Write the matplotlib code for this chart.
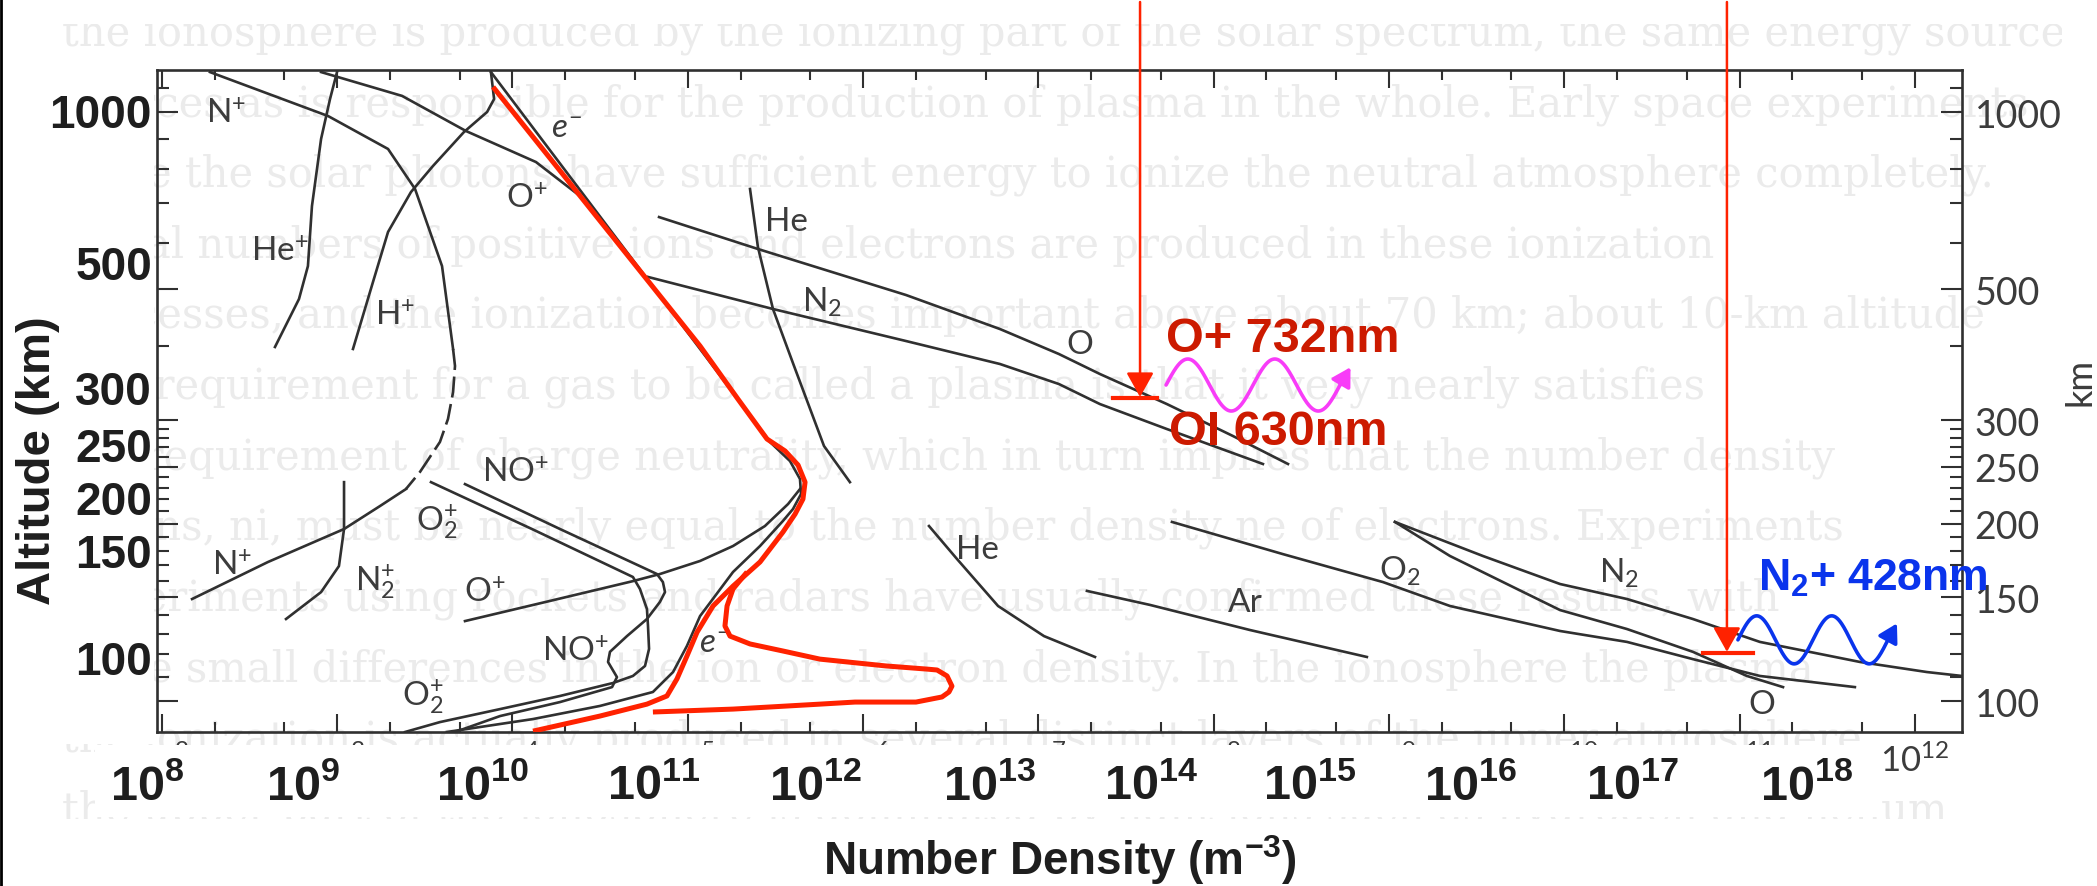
import numpy as np
import matplotlib
matplotlib.use("Agg")
import matplotlib.pyplot as plt
from matplotlib.patches import Rectangle, FancyArrowPatch
from matplotlib.lines import Line2D
from matplotlib.ticker import FixedLocator, NullFormatter, FuncFormatter
from matplotlib.transforms import IdentityTransform, Bbox

plt.rcParams['mathtext.fontset'] = 'custom'
plt.rcParams['mathtext.rm'] = 'Lato'
plt.rcParams['mathtext.it'] = 'Lato:italic'
plt.rcParams['mathtext.bf'] = 'Liberation Sans:bold'
plt.rcParams['mathtext.default'] = 'rm'

# ---- profiles: log10 number density (m^-3), altitude (km)
e_logn = [9.877, 11.070, 11.298, 11.469, 11.583, 11.640, 11.646, 11.600, 11.543, 11.412,
          11.258, 11.070, 10.995, 10.916, 10.801, 10.499, 10.117, 9.626]
e_alt = [1169, 396, 321.8, 275.3, 255.5, 238.2, 224.6, 211.8, 202.2, 183.3,
         165.6, 139.4, 124.0, 112.0, 103.6, 98.1, 93.2, 88.6]

h_plus_logn = [9.877, 9.895, 9.855, 9.723, 9.546, 9.421, 9.290, 9.204, 9.090]
h_plus_alt = [1169, 1052, 1000, 924.7, 809.6, 731.5, 625.7, 514.4, 396]

he_plus_logn = [8.999, 8.959, 8.908, 8.856, 8.833, 8.782, 8.645]
he_plus_alt = [1169, 1052, 900, 692.4, 547.6, 481.4, 399.1]

o_plus_top_logn = [8.908, 9.370, 9.735, 10.134, 10.385, 10.539, 10.767, 10.853]
o_plus_top_alt = [1169, 1065, 928.3, 822.4, 720.1, 633.1, 520.5, 481.4]

o_plus_low_logn = [9.729, 10.214, 10.687, 10.841, 11.070, 11.258, 11.440, 11.572, 11.640]
o_plus_low_alt = [136.7, 147.9, 159.8, 164.3, 172.9, 183.3, 198.2, 216.0, 229.0]

n_plus_logn = [8.274, 8.948, 9.290, 9.444, 9.598, 9.661]
n_plus_alt = [1169, 984.4, 865.5, 740.2, 547.6, 396]
n_plus_gap_logn = [9.661, 9.672, 9.661, 9.632, 9.586, 9.472, 9.392]
n_plus_gap_alt = [396, 370.6, 334.6, 301.2, 275.3, 244.8, 229.0]
n_plus_low_logn = [9.392, 9.244, 9.039, 8.605, 8.172]
n_plus_low_alt = [229.0, 214.3, 195.9, 172.2, 149.0]

n2_plus_logn = [9.039, 9.039, 9.010, 8.908, 8.708]
n2_plus_alt = [235.3, 195.9, 169.5, 153.1, 137.8]

o2_plus_logn = [9.535, 10.111, 10.687, 10.727, 10.767, 10.773, 10.779, 10.756, 10.687,
                10.573, 10.271, 9.929, 9.586, 9.387]
o2_plus_alt = [235.3, 195.9, 162.4, 155.0, 143.3, 134.1, 122.6, 114.7, 110.3,
               107.3, 102.0, 96.9, 92.1, 88.6]

no_plus_logn = [9.729, 10.271, 10.824, 10.858, 10.870, 10.841, 10.767, 10.653, 10.556,
                10.545, 10.596, 10.568, 10.271, 9.929, 9.672]
no_plus_alt = [233.5, 195.9, 164.3, 159.2, 153.1, 147.3, 137.8, 128.9, 121.2,
               116.5, 109.8, 105.6, 99.6, 94.3, 88.6]

he_top_logn = [11.355, 11.400, 11.486, 11.606, 11.777, 11.925]
he_top_alt = [740.2, 590.0, 463.0, 370.6, 271.0, 235.3]

o_top_logn = [10.836, 11.400, 12.245, 12.781, 13.117, 13.351, 13.733, 14.110, 14.424]
o_top_alt = [663.2, 585.4, 489.0, 428.1, 388.3, 359.1, 319.3, 281.8, 252.6]

n2_top_logn = [10.773, 11.486, 12.245, 12.781, 13.117, 13.351, 13.733, 14.281]
n2_top_alt = [524.8, 463.0, 408.5, 373.4, 345.3, 319.3, 289.6, 252.6]

he_low_logn = [12.376, 12.536, 12.770, 13.032, 13.323]
he_low_alt = [198.2, 174.2, 145.0, 128.9, 118.8]

ar_logn = [13.277, 13.637, 14.207, 14.874]
ar_alt = [153.8, 145.6, 132.0, 118.8]

o2_logn = [13.762, 14.395, 14.966, 15.348, 15.976, 16.358, 16.734, 17.116, 17.658]
o2_alt = [201.4, 177.6, 159.2, 145.0, 131.5, 126.0, 117.8, 110.3, 105.6]

n2_low_logn = [15.034, 15.536, 15.976, 16.358, 16.734, 17.116, 17.687, 18.069, 18.269]
n2_low_alt = [201.4, 176.3, 158.0, 149.0, 137.8, 126.0, 116.5, 112.0, 110.3]

o_low_logn = [15.034, 15.348, 15.730, 15.976, 16.358, 16.734, 17.042, 17.248]
o_low_alt = [201.4, 176.3, 155.0, 142.7, 132.5, 121.2, 110.3, 105.6]

# hand-drawn red electron profile (two strokes)
red_logn = [9.889, 11.070, 11.286, 11.452, 11.555, 11.629, 11.669, 11.657, 11.612, 11.543,
            11.412, 11.258, 11.144, 11.053, 10.995, 10.938, 10.881, 10.767, 10.499, 10.117]
red_alt = [1103, 400.6, 325.6, 278.5, 265.8, 251.6, 235.3, 220.3, 207.7, 193.6,
           172.2, 156.7, 145.0, 130.9, 119.2, 109.0, 102.0, 98.8, 94.3, 88.9]
red_nose_logn = [11.338, 11.258, 11.224, 11.212, 11.241, 11.355, 11.543, 11.754, 12.131,
                 12.364, 12.422, 12.479, 12.507, 12.490, 12.450, 12.302, 11.954, 11.754,
                 11.258, 10.801]
red_nose_alt = [165.6, 155.0, 145.0, 134.1, 128.9, 125.0, 121.6, 117.8, 114.7,
                113.3, 112.9, 110.3, 106.0, 103.6, 101.6, 99.6, 99.6, 98.8, 96.9, 95.8]

# emission points marked by the red arrows
emit_logn = [13.580, 16.928]
emit_alt = [328.2, 121.2]

# curve labels of the original figure
curve_labels = ['N$^{+}$', 'He$^{+}$', 'H$^{+}$', 'O$^{+}$', '$\\mathit{e}^{-}$', 'He', 'N$_{2}$', 'O',
                'NO$^{+}$', 'O$_{2}^{+}$', 'N$^{+}$', 'N$_{2}^{+}$', 'O$^{+}$', 'NO$^{+}$',
                'O$_{2}^{+}$', '$\\mathit{e}^{-}$', 'He', 'Ar', 'O$_{2}$', 'N$_{2}$', 'O']
label_logn = [8.366, 8.674, 9.330, 10.083, 10.311, 11.560, 11.766, 13.237, 10.014, 9.569,
              8.400, 9.216, 9.843, 10.357, 9.489, 11.155, 12.650, 14.178, 15.063, 16.312, 17.128]
label_alt = [996, 580.7, 452.2, 714.5, 943, 652.9, 477.6, 403.8, 244.8, 202.2,
             170.2, 159.8, 153.1, 121.6, 102.0, 126.0, 181.2, 147.3, 166.9, 165.6, 98.8]

alt_major = [100, 150, 200, 250, 300, 500, 1000]
alt_minor = [110, 120, 130, 140, 160, 170, 180, 190, 210, 220, 230, 240,
             260, 270, 280, 290, 400, 600, 700, 800, 900, 1100]

# overlay labels (bold) and where they sit
x_overlay = list(range(8, 19))
x_overlay_pos = [0.0701, 0.1445, 0.2303, 0.3119, 0.3887, 0.4721, 0.5489, 0.6247, 0.7015, 0.7783, 0.8617]
y_overlay = ['1000', '500', '300', '250', '200', '150', '100']
y_overlay_pos = [0.8557, 0.6843, 0.5434, 0.4791, 0.4194, 0.3596, 0.2390]

page_lines = [
    "the ionosphere is produced by the ionizing part of the solar spectrum, the same energy source",
    "sources as is responsible for the production of plasma in the whole. Early space experiments",
    "since the solar photons have sufficient energy to ionize the neutral atmosphere completely.",
    "Equal numbers of positive ions and electrons are produced in these ionization",
    "processes, and the ionization becomes important above about 70 km; about 10-km altitude",
    "The requirement for a gas to be called a plasma is that it very nearly satisfies",
    "the requirement of charge neutrality, which in turn implies that the number density",
    "of ions, ni, must be nearly equal to the number density ne of electrons. Experiments",
    "Experiments using rockets and radars have usually confirmed these results, with",
    "some small differences in the ion or electron density. In the ionosphere the plasma",
    "the ionization is actually produced in several distinct layers of the upper atmosphere",
    "the upper part of the ionosphere is dominated by light ions such as hydrogen and helium",
]

ink = '#303030'
red = '#ff2200'
dark_red = '#cc1a00'
magenta = '#f83cf8'
blue = '#0a34ec'
W, H = 2097, 887

fig = plt.figure(figsize=(W / 100, H / 100), dpi=100)

# faint page text behind the scanned figure
clip = Bbox.from_extents(60, H - 820, 2062, H - 25)
for k, line in enumerate(page_lines):
    t = fig.text(62 / W, 1 - (34 + 70.6 * k) / H, line, family='DejaVu Serif', fontsize=30,
                 color='#ebebeb', ha='left', va='center', zorder=-2)
    t.set_clip_box(clip)
    t.set_clip_on(True)

ax = fig.add_axes([157 / W, 1 - 733 / H, 1805 / W, 662 / H])
ax.set_facecolor('none')
ax.set_xscale('log')
ax.set_yscale('log')
ax.set_xlim(10 ** 7.972, 10 ** 18.269)
ax.set_ylim(88.6, 1178.5)

black = [(e_logn, e_alt), (h_plus_logn, h_plus_alt), (he_plus_logn, he_plus_alt),
         (o_plus_top_logn, o_plus_top_alt), (o_plus_low_logn, o_plus_low_alt),
         (n_plus_logn, n_plus_alt), (n_plus_low_logn, n_plus_low_alt),
         (n2_plus_logn, n2_plus_alt), (o2_plus_logn, o2_plus_alt), (no_plus_logn, no_plus_alt),
         (he_top_logn, he_top_alt), (o_top_logn, o_top_alt), (n2_top_logn, n2_top_alt),
         (he_low_logn, he_low_alt), (ar_logn, ar_alt), (o2_logn, o2_alt),
         (n2_low_logn, n2_low_alt), (o_low_logn, o_low_alt)]
for logn, alt in black:
    ax.plot(10 ** np.array(logn), alt, color=ink, lw=1.9, solid_joinstyle='round', zorder=2)
ax.plot(10 ** np.array(n_plus_gap_logn), n_plus_gap_alt, color=ink, lw=1.9,
        dashes=(8, 2.5), zorder=2)

for logn, alt in [(red_logn, red_alt), (red_nose_logn, red_nose_alt)]:
    ax.plot(10 ** np.array(logn), alt, color=red, lw=3.6, solid_joinstyle='round',
            solid_capstyle='butt', zorder=4)

for s, l, a in zip(curve_labels, label_logn, label_alt):
    ax.text(10 ** l, a, s, family='Lato', fontsize=24, color='#3c3c3c',
            ha='center', va='center', zorder=3)

# axis frame and ticks of the original figure
for sp in ax.spines.values():
    sp.set_linewidth(1.9)
    sp.set_color(ink)
xmaj = [10.0 ** k for k in range(8, 19)]
xmin = [m * 10.0 ** k for k in range(7, 19) for m in (2, 5)]
ax.xaxis.set_major_locator(FixedLocator(xmaj))
ax.xaxis.set_minor_locator(FixedLocator(xmin))
ax.xaxis.set_minor_formatter(NullFormatter())
ax.xaxis.set_major_formatter(FuncFormatter(lambda v, p: '10$^{%d}$' % (round(np.log10(v)) - 6)))
ax.yaxis.set_major_locator(FixedLocator(alt_major))
ax.yaxis.set_minor_locator(FixedLocator(alt_minor))
ax.yaxis.set_minor_formatter(NullFormatter())
ax.yaxis.set_major_formatter(FuncFormatter(lambda v, p: '%g' % v))
ax.tick_params(which='both', direction='in', top=True, right=True, left=True, bottom=True,
               color=ink, width=1.5)
ax.tick_params(axis='x', which='major', length=13, pad=8, labelsize=25, labelcolor='#3c3c3c')
ax.tick_params(axis='x', which='minor', length=7.5)
ax.tick_params(axis='y', which='major', length=15, pad=9, labelsize=27, labelcolor='#3c3c3c',
               labelleft=False, labelright=True)
ax.tick_params(axis='y', which='minor', length=8.5)
for tk in ax.xaxis.get_major_ticks():
    tk.label1.set_family('Lato')
for tk in ax.yaxis.get_major_ticks():
    tk.label2.set_family('Lato')

fig.text(2080 / W, 1 - 382 / H, 'km', rotation=90, family='Lato',
         fontsize=26, color='#3c3c3c', ha='center', va='center')

# white patches of the slide that hide the old labels
fig.add_artist(Rectangle((95 / W, 1 - 818 / H), 1785 / W, 72 / H, transform=fig.transFigure,
                         facecolor='white', edgecolor='none', zorder=1))
fig.add_artist(Rectangle((3 / W, 1 - 745 / H), 151 / W, 660 / H, transform=fig.transFigure,
                         facecolor='white', edgecolor='none', zorder=1))
fig.add_artist(Line2D([1.2 / W, 1.2 / W], [0, 1], transform=fig.transFigure, color='black',
                      lw=2, zorder=6))

# bold overlay labels
bold = dict(family='Liberation Sans', fontweight='bold', color='#1e1e1e')
for k, xf in zip(x_overlay, x_overlay_pos):
    fig.text(xf, 1 - 800 / H, '$\\mathbf{10^{%d}}$' % k, ha='center', va='baseline',
             fontsize=35, zorder=3, **bold)
for s, yf in zip(y_overlay, y_overlay_pos):
    fig.text(152 / W, yf, s, ha='right', va='baseline', fontsize=33, zorder=3, **bold)
fig.text(0.5055, 1 - 875 / H, 'Number Density (m$^{\\mathbf{-3}}$)', ha='center',
         va='baseline', fontsize=33, zorder=3, **bold)
fig.text(38 / W, 1 - 461 / H, 'Altitude (km)', rotation=90, ha='center', va='center',
         fontsize=34, zorder=3, **bold)

# red arrows marking the emission altitudes, with the wavy photons
ident = IdentityTransform()
tips = [ax.transData.transform((10 ** l, a)) for l, a in zip(emit_logn, emit_alt)]
bars = [(27, 17), (24, 26)]
for (tx, ty), (bl, br) in zip(tips, bars):
    fig.add_artist(FancyArrowPatch((tx, H - 3), (tx, ty),
                                   arrowstyle='-|>,head_length=0.75,head_width=0.42',
                                   mutation_scale=20, color=red, lw=1.8, shrinkA=0, shrinkB=0,
                                   transform=ident, zorder=5))
    fig.add_artist(Line2D([tx - bl, tx + br], [ty - 1, ty - 1], color=red, lw=3,
                          transform=ident, zorder=5))


def wave(x0, yc, amp, period, color):
    t = np.linspace(0, 2.06, 300)
    fig.add_artist(Line2D(x0 + t * period, yc + amp * np.sin(2 * np.pi * t), color=color,
                          lw=2.6, transform=ident, zorder=5, solid_capstyle='round'))
    ta, tb = 2.0, 2.12
    fig.add_artist(FancyArrowPatch((x0 + ta * period, yc + amp * np.sin(2 * np.pi * ta)),
                                   (x0 + tb * period, yc + amp * np.sin(2 * np.pi * tb)),
                                   arrowstyle='-|>,head_length=0.55,head_width=0.32',
                                   mutation_scale=20, color=color, lw=2.6, shrinkA=0,
                                   shrinkB=0, transform=ident, zorder=5))


wave(tips[0][0] + 26, tips[0][1] + 12, 26, 87, magenta)
wave(tips[1][0] + 11, tips[1][1] + 12, 24, 75, blue)

note = dict(family='Liberation Sans', fontweight='bold', ha='left', va='baseline', zorder=6)
fig.text(1166 / W, 1 - 352 / H, 'O+ 732nm', fontsize=35, color=dark_red, **note)
fig.text(1169 / W, 1 - 445 / H, 'OI 630nm', fontsize=35, color=dark_red, **note)
fig.text(1758 / W, 1 - 590 / H, 'N$_{\\mathbf{2}}$+ 428nm', fontsize=32, color=blue, **note)

fig.savefig('out.png', dpi=100)
